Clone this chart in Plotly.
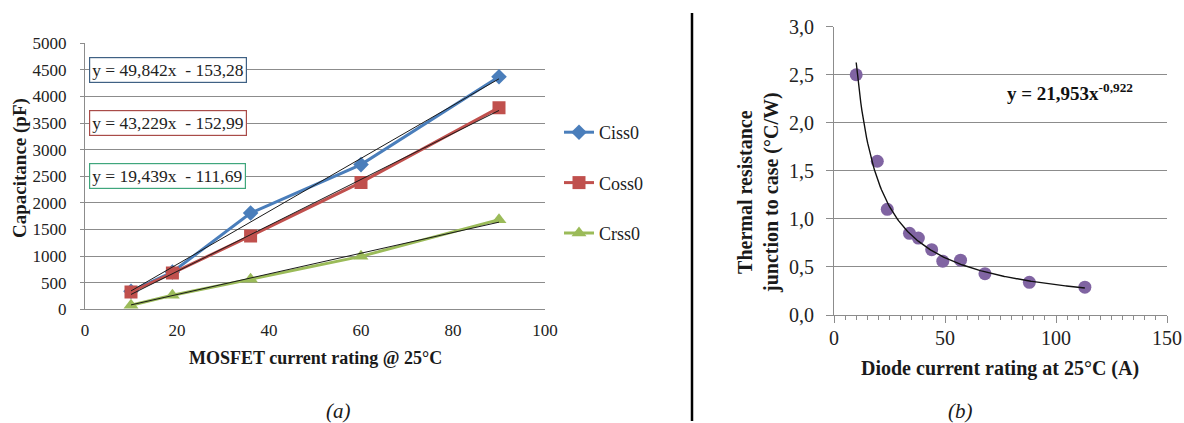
import numpy as np
import plotly.graph_objects as go

# ---- (a) MOSFET capacitances vs. current rating ----
mosfet_current = [10, 19, 36, 60, 90]
ciss0 = [340, 700, 1810, 2720, 4370]
coss0 = [325, 680, 1380, 2385, 3790]
crss0 = [75, 265, 565, 995, 1685]

# linear fits (slope, intercept) as printed on the chart
fit_ciss = (49.842, -153.28)
fit_coss = (43.229, -152.99)
fit_crss = (19.439, -111.69)

# ---- (b) diode thermal resistance vs. current rating ----
diode_current = [10, 19.5, 24, 34, 38, 44, 49, 57, 68, 88, 113]
rth_jc = [2.5, 1.6, 1.1, 0.85, 0.8, 0.68, 0.56, 0.57, 0.43, 0.34, 0.29]

# power-law fit y = a * x^b
fit_rth = (21.953, -0.922)

rth_ticks = [0, 0.5, 1.0, 1.5, 2.0, 2.5, 3.0]

SERIF = "Liberation Serif"
GRID = "#8c8c8c"
W, H = 1184, 423


def comma(v, nd):
    return f"{v:.{nd}f}".replace(".", ",")


def lin_label(fit):
    a, b = fit
    sign = "-" if b < 0 else "+"
    return f"y = {comma(a, 3)}x  {sign} {comma(abs(b), 2)}"


fig = go.Figure()

series = [
    ("Ciss0", ciss0, "#4a7ebb", "diamond", 12, fit_ciss),
    ("Coss0", coss0, "#c0504d", "square", 13, fit_coss),
    ("Crss0", crss0, "#9bbb59", "triangle-up", 13, fit_crss),
]

for name, vals, col, sym, msize, _ in series:
    fig.add_trace(go.Scatter(
        x=mosfet_current, y=vals, name=name, mode="lines+markers",
        line=dict(color=col, width=3),
        marker=dict(symbol=sym, size=msize, color=col),
        legendgroup=name, xaxis="x", yaxis="y",
    ))

# trendlines of panel (a)
x_ends = np.array([mosfet_current[0], mosfet_current[-1]], dtype=float)
for name, _, col, _, _, (a, b) in series:
    fig.add_trace(go.Scatter(
        x=x_ends, y=a * x_ends + b, mode="lines",
        line=dict(color="#1a1a1a", width=1), showlegend=False,
        hoverinfo="skip", xaxis="x", yaxis="y",
    ))

# panel (b) points and power-law trend curve
fig.add_trace(go.Scatter(
    x=diode_current, y=rth_jc, mode="markers", showlegend=False,
    marker=dict(color="#8064a2", size=13), xaxis="x2", yaxis="y2",
))
xc = np.linspace(diode_current[0], diode_current[-1], 200)
fig.add_trace(go.Scatter(
    x=xc, y=fit_rth[0] * xc ** fit_rth[1], mode="lines", showlegend=False,
    line=dict(color="#111111", width=1.4), hoverinfo="skip",
    xaxis="x2", yaxis="y2",
))


# plot areas in pixels -> paper fractions
def px_x(p):
    return p / W


def px_y(p):
    return 1 - p / H


fig.update_layout(
    width=W, height=H, margin=dict(l=0, r=0, t=0, b=0, autoexpand=False),
    paper_bgcolor="white", plot_bgcolor="white",
    font=dict(family=SERIF, size=17, color="#222"),
    xaxis=dict(domain=[px_x(85), px_x(545)], range=[0, 100], dtick=20,
               showgrid=False, showline=True, ticks="", anchor="y"),
    yaxis=dict(domain=[px_y(309.3), px_y(43.3)], range=[0, 5000], dtick=500,
               showgrid=True, gridcolor=GRID, gridwidth=1, showline=True,
               ticks="outside", ticklen=4, anchor="x"),
    xaxis2=dict(domain=[px_x(834), px_x(1167)], range=[0, 150], dtick=50,
                showgrid=False, showline=True, ticks="outside", ticklen=7,
                minor=dict(dtick=5, ticks="outside", ticklen=4,
                           tickcolor=GRID, showgrid=False),
                anchor="y2"),
    yaxis2=dict(domain=[px_y(315), px_y(26.7)], range=[0, 3],
                tickvals=rth_ticks, ticktext=[comma(v, 1) for v in rth_ticks],
                showgrid=True, gridcolor=GRID, gridwidth=1, showline=True,
                ticks="outside", ticklen=7, anchor="x2"),
    legend=dict(x=px_x(559), y=px_y(114), xanchor="left", yanchor="top",
                font=dict(family=SERIF, size=18, color="#222"),
                tracegroupgap=24, bgcolor="rgba(0,0,0,0)"),
    showlegend=True,
)

fig.update_xaxes(linecolor=GRID, linewidth=1, tickcolor=GRID, zeroline=False)
fig.update_yaxes(linecolor=GRID, linewidth=1, tickcolor=GRID, zeroline=False)
fig.update_layout(
    xaxis_tickfont=dict(family=SERIF, size=17, color="#222"),
    yaxis_tickfont=dict(family=SERIF, size=17, color="#222"),
    xaxis2_tickfont=dict(family=SERIF, size=20, color="#222"),
    yaxis2_tickfont=dict(family=SERIF, size=20, color="#222"),
    xaxis_ticklabelstandoff=5, yaxis_ticklabelstandoff=10,
    xaxis2_ticklabelstandoff=-2, yaxis2_ticklabelstandoff=8,
)

# equation boxes of panel (a)
box_cols = ["#3f6184", "#a94b48", "#3fa67c"]
for (name, _, _, _, _, fit), yv, bc in zip(series, [4500, 3500, 2500], box_cols):
    fig.add_annotation(
        x=0.9, y=yv, xref="x", yref="y", xanchor="left", yanchor="middle",
        text=lin_label(fit), showarrow=False,
        font=dict(family=SERIF, size=17.5, color="#222"),
        bgcolor="white", bordercolor=bc, borderwidth=1.2, borderpad=2,
    )

# equation of panel (b)
fig.add_annotation(
    x=77, y=2.32, xref="x2", yref="y2", xanchor="left", yanchor="middle",
    text=f"<b>y = {comma(fit_rth[0], 3)}x<sup>{comma(fit_rth[1], 3)}</sup></b>",
    showarrow=False, font=dict(family=SERIF, size=19, color="#111"),
)


def paper_text(x, y, text, size, angle=0):
    fig.add_annotation(
        x=px_x(x), y=px_y(y), xref="paper", yref="paper",
        xanchor="center", yanchor="middle", text=text, textangle=angle,
        showarrow=False, font=dict(family=SERIF, size=size, color="#1a1a1a"),
    )


# axis titles
paper_text(20, 168, "<b>Capacitance (pF)</b>", 19, -90)
paper_text(315, 358, "<b>MOSFET current rating @ 25°C</b>", 18)
paper_text(758, 193, "<b>Thermal resistance<br>junction to case (°C/W)</b>", 20, -90)
paper_text(1000, 368, "<b>Diode current rating at 25°C (A)</b>", 20)

# panel captions
paper_text(338, 411, "<i>(a)</i>", 21)
paper_text(960, 411, "<i>(b)</i>", 21)

# separator between the panels
fig.add_shape(type="line", xref="paper", yref="paper",
              x0=px_x(692), x1=px_x(692), y0=px_y(421), y1=px_y(13),
              line=dict(color="black", width=2.5))

fig.write_html(
    "out.html",
    post_script="document.body.style.margin='0';"
                "document.documentElement.style.overflow='hidden';",
)
